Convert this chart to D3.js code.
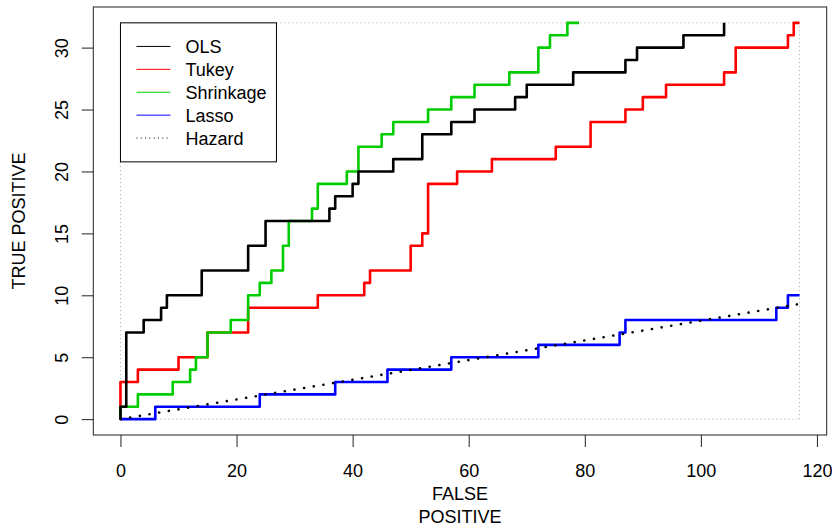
<!DOCTYPE html>
<html>
<head>
<meta charset="utf-8">
<script src="https://cdn.jsdelivr.net/npm/d3@7"></script>
<style>
  body { margin: 0; background: #fff; }
  svg { display: block; }
  text { font-family: "Liberation Sans", Arial, Helvetica, sans-serif; font-size: 18px; fill: #000; }
</style>
</head>
<body>
<svg id="chart" width="832" height="526"></svg>
<script>
// cumulative (false positive, true positive) counts
const olsFP = [0, 0, 1, 4, 7, 8, 14, 22, 25, 36, 37, 40, 41, 47, 52, 57, 61, 68, 70, 78, 87, 89, 97, 104];
const olsTP = [0, 1, 7, 8, 9, 10, 12, 14, 16, 17, 18, 19, 20, 21, 23, 24, 25, 26, 27, 28, 29, 30, 31, 32];

const tukeyFP = [0, 0, 3, 10, 15, 22, 34, 42, 43, 50, 52, 53, 58, 64, 75, 81, 87, 90, 94, 104, 106, 115, 116, 117];
const tukeyTP = [0, 3, 4, 5, 7, 9, 10, 11, 12, 14, 15, 19, 20, 21, 22, 24, 25, 26, 27, 28, 30, 31, 32, 32];

const shrinkFP = [0, 0, 3, 9, 12, 13, 15, 19, 22, 24, 26, 28, 29, 33, 34, 39, 41, 45, 47, 53, 57, 61, 67, 72, 74, 77, 79];
const shrinkTP = [0, 1, 2, 3, 4, 5, 7, 8, 10, 11, 12, 14, 16, 17, 19, 20, 22, 23, 24, 25, 26, 27, 28, 30, 31, 32, 32];

const lassoFP = [0, 6, 24, 37, 46, 57, 72, 86, 87, 113, 115, 117];
const lassoTP = [0, 1, 2, 3, 4, 5, 6, 7, 8, 9, 10, 10];

const hazardFP = [0, 117];
const hazardTP = [0, 9.3];

// totals (grey dotted frame)
const totalFP = 117;
const totalTP = 32;

const xTicks = [0, 20, 40, 60, 80, 100, 120];
const yTicks = [0, 5, 10, 15, 20, 25, 30];
const legendNames = ['OLS', 'Tukey', 'Shrinkage', 'Lasso', 'Hazard'];

const svg = d3.select('svg#chart');

// R style axis range: data range plus 4% on each side
const xPad = totalFP * 0.04;
const yPad = totalTP * 0.04;
const x = d3.scaleLinear().domain([-xPad, totalFP + xPad]).range([93.3, 826.7]);
const y = d3.scaleLinear().domain([-yPad, totalTP + yPad]).range([435, 7]);

const zip = (a, b) => a.map((v, i) => [v, b[i]]);
const step = d3.line().x(d => x(d[0])).y(d => y(d[1])).curve(d3.curveStepAfter);
const straight = d3.line().x(d => x(d[0])).y(d => y(d[1]));

// grey dotted reference lines at the totals
const ref = svg.append('g')
  .attr('fill', 'none')
  .attr('stroke', '#aaa')
  .attr('stroke-width', 1)
  .attr('stroke-dasharray', '1,3');
ref.append('path').attr('d', straight([[0, 0], [totalFP, 0]]));
ref.append('path').attr('d', straight([[0, totalTP], [totalFP, totalTP]]));
ref.append('path').attr('d', straight([[0, 0], [0, totalTP]]));
ref.append('path').attr('d', straight([[totalFP, 0], [totalFP, totalTP]]));

const series = [
  { pts: zip(tukeyFP, tukeyTP), color: '#ff0000' },
  { pts: zip(shrinkFP, shrinkTP), color: '#00cd00' },
  { pts: zip(lassoFP, lassoTP), color: '#0000ff' },
  { pts: zip(olsFP, olsTP), color: '#000000' }
];

svg.append('g')
  .selectAll('path')
  .data(series)
  .enter()
  .append('path')
  .attr('d', d => step(d.pts))
  .attr('fill', 'none')
  .attr('stroke', d => d.color)
  .attr('stroke-width', 2.6)
  .attr('stroke-linejoin', 'round');

svg.append('path')
  .attr('d', straight(zip(hazardFP, hazardTP)))
  .attr('fill', 'none')
  .attr('stroke', '#000')
  .attr('stroke-width', 2.6)
  .attr('stroke-linecap', 'round')
  .attr('stroke-dasharray', '0.1,9.7');

// axes
const xAxis = svg.append('g')
  .attr('transform', 'translate(0,435)')
  .call(d3.axisBottom(x).tickValues(xTicks).tickSize(12).tickSizeOuter(0));
xAxis.select('.domain').remove();
xAxis.selectAll('.tick line').attr('stroke', '#222');
xAxis.selectAll('.tick text')
  .attr('y', 42.3)
  .attr('dy', 0)
  .attr('font-size', 18)
  .attr('font-family', null);

const yAxis = svg.append('g')
  .attr('transform', 'translate(93.3,0)')
  .call(d3.axisLeft(y).tickValues(yTicks).tickSize(11.6).tickSizeOuter(0));
yAxis.select('.domain').remove();
yAxis.selectAll('.tick line').attr('stroke', '#222');
yAxis.selectAll('.tick text')
  .attr('x', 0)
  .attr('dy', 0)
  .attr('text-anchor', 'middle')
  .attr('transform', 'translate(-25,0) rotate(-90)')
  .attr('font-size', 18)
  .attr('font-family', null);

// axis titles
svg.append('text').attr('x', 460).attr('y', 500).attr('text-anchor', 'middle').text('FALSE');
svg.append('text').attr('x', 460).attr('y', 523).attr('text-anchor', 'middle').text('POSITIVE');
svg.append('text')
  .attr('transform', 'translate(25,221) rotate(-90)')
  .attr('text-anchor', 'middle')
  .text('TRUE POSITIVE');

// legend in the top left corner of the dotted frame
const lx = x(0);
const ly = y(totalTP);
const legend = svg.append('g');
legend.append('rect')
  .attr('x', lx)
  .attr('y', ly)
  .attr('width', 156)
  .attr('height', 139)
  .attr('fill', '#fff')
  .attr('stroke', '#000')
  .attr('stroke-width', 1);

const legendColors = ['#000000', '#ff0000', '#00cd00', '#0000ff', '#000000'];
const rows = legend.selectAll('g.row')
  .data(legendNames)
  .enter()
  .append('g')
  .attr('class', 'row')
  .attr('transform', (d, i) => `translate(${lx},${ly + 23.6 + i * 22.9})`);
rows.append('line')
  .attr('x1', 16)
  .attr('x2', 50)
  .attr('stroke', (d, i) => legendColors[i])
  .attr('stroke-width', 1)
  .attr('stroke-dasharray', (d, i) => (d === 'Hazard' ? '1,3.3' : null));
rows.append('text')
  .attr('x', 65)
  .attr('y', 6.6)
  .text(d => d);

// plot frame
svg.append('rect')
  .attr('x', 93.3)
  .attr('y', 7)
  .attr('width', 733.4)
  .attr('height', 428)
  .attr('fill', 'none')
  .attr('stroke', '#222')
  .attr('stroke-width', 1);
</script>
</body>
</html>
